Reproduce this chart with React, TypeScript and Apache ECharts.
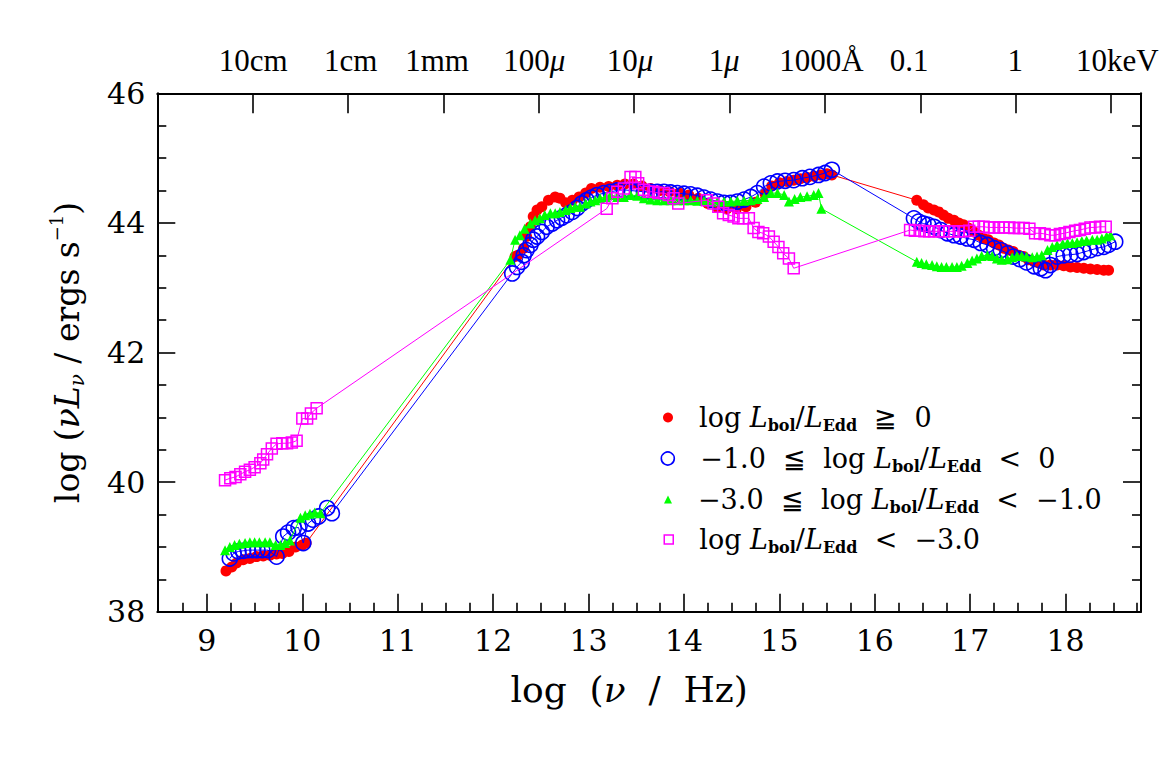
import React, { useEffect, useRef } from 'react';
import * as echarts from 'echarts';

// ---------- axes ----------
const X_RANGE = [8.48, 18.79];
const Y_RANGE = [38, 46];
const X_MAJOR_TICKS = [9, 10, 11, 12, 13, 14, 15, 16, 17, 18];
const X_MINOR_TICKS: number[] = [];
for (let k = 35; k <= 75; k++) {
  if (k % 4 !== 0) X_MINOR_TICKS.push(k / 4);
}
const Y_MAJOR_TICKS = [38, 40, 42, 44, 46];
const Y_MINOR_TICKS = [38.5, 39, 39.5, 40.5, 41, 41.5, 42.5, 43, 43.5, 44.5, 45, 45.5];
const TOP_TICKS = [9.477, 10.477, 11.477, 12.477, 13.477, 14.477, 15.477, 16.477, 17.477, 18.477];
const TOP_LABELS = ['10cm', '1cm', '1mm', '100μ', '10μ', '1μ', '1000Å', '0.1', '1', '10keV'];
const TOP_LABEL_AT = [9.485, 10.506, 11.412, 12.431, 13.434, 14.421, 15.442, 16.361, 17.473, 18.541];

// ---------- series names ----------
const NAME_R = 'log Lbol/LEdd ≧ 0';
const NAME_B = '−1.0 ≦ log Lbol/LEdd < 0';
const NAME_G = '−3.0 ≦ log Lbol/LEdd < −1.0';
const NAME_M = 'log Lbol/LEdd < −3.0';

// ---------- data: [log nu, log nuLnu] ----------
const RED: [number, number][] = [
  [9.20, 38.63], [9.26, 38.69], [9.31, 38.75], [9.38, 38.80], [9.45, 38.82], [9.52, 38.85], [9.59, 38.86],
  [9.66, 38.87], [9.73, 38.89], [9.79, 38.90], [9.86, 38.93], [9.93, 39.00], [10.00, 39.03], [10.04, 39.06],
  [12.23, 43.48], [12.26, 43.50], [12.32, 43.61], [12.35, 43.79], [12.39, 43.94], [12.42, 44.10], [12.46, 44.20],
  [12.51, 44.25], [12.58, 44.35], [12.65, 44.40], [12.70, 44.38], [12.76, 44.31], [12.83, 44.35], [12.90, 44.40],
  [12.97, 44.46], [13.03, 44.53], [13.12, 44.55], [13.21, 44.56], [13.30, 44.58], [13.38, 44.60], [13.47, 44.60],
  [13.56, 44.57], [13.65, 44.53], [13.75, 44.50], [13.85, 44.48], [13.95, 44.46], [14.05, 44.43], [14.15, 44.38],
  [14.25, 44.30], [14.35, 44.24], [14.45, 44.22], [14.55, 44.22], [14.65, 44.25], [14.75, 44.32], [14.85, 44.45],
  [14.92, 44.57], [15.00, 44.62], [15.08, 44.64], [15.15, 44.66], [15.22, 44.68], [15.29, 44.70], [15.36, 44.72],
  [15.43, 44.74], [15.50, 44.76], [15.55, 44.74],
  [16.44, 44.35], [16.51, 44.28], [16.56, 44.23], [16.62, 44.20], [16.67, 44.17], [16.72, 44.12], [16.77, 44.07],
  [16.83, 44.04], [16.88, 44.00], [16.93, 43.97], [16.98, 43.92], [17.04, 43.86], [17.09, 43.81], [17.14, 43.76],
  [17.19, 43.74], [17.25, 43.69], [17.30, 43.66], [17.35, 43.61], [17.40, 43.58], [17.45, 43.56], [17.51, 43.50],
  [17.56, 43.48], [17.61, 43.43], [17.67, 43.40], [17.72, 43.38], [17.77, 43.35], [17.84, 43.35], [17.91, 43.35],
  [17.98, 43.34], [18.05, 43.32], [18.12, 43.31], [18.19, 43.30], [18.26, 43.29], [18.33, 43.28], [18.40, 43.27],
  [18.45, 43.27],
];

const BLUE: [number, number][] = [
  [9.24, 38.82], [9.28, 38.90], [9.33, 38.93], [9.38, 38.94], [9.43, 38.95], [9.48, 38.95], [9.53, 38.95],
  [9.58, 38.95], [9.64, 38.95], [9.73, 38.85], [9.80, 39.16], [9.85, 39.22], [9.91, 39.29], [9.96, 39.30],
  [10.01, 39.06], [10.06, 39.36], [10.11, 39.42], [10.17, 39.47], [10.26, 39.60], [10.31, 39.52],
  [12.20, 43.22], [12.25, 43.32], [12.30, 43.40], [12.32, 43.50], [12.35, 43.58], [12.39, 43.66], [12.42, 43.74],
  [12.46, 43.79], [12.51, 43.86], [12.56, 43.94], [12.62, 43.99], [12.67, 44.04], [12.72, 44.08], [12.77, 44.12],
  [12.83, 44.17], [12.88, 44.23], [12.93, 44.30], [12.98, 44.35], [13.03, 44.39], [13.09, 44.43], [13.16, 44.46],
  [13.23, 44.48], [13.30, 44.50], [13.37, 44.51], [13.44, 44.50], [13.51, 44.49], [13.58, 44.48], [13.65, 44.48],
  [13.72, 44.48], [13.79, 44.48], [13.86, 44.47], [13.93, 44.46], [14.00, 44.45], [14.07, 44.44], [14.14, 44.42],
  [14.21, 44.39], [14.28, 44.36], [14.35, 44.33], [14.42, 44.31], [14.49, 44.31], [14.56, 44.33], [14.63, 44.36],
  [14.70, 44.40], [14.77, 44.46], [14.84, 44.56], [14.91, 44.61], [14.98, 44.64], [15.06, 44.65], [15.15, 44.66],
  [15.24, 44.69], [15.32, 44.71], [15.41, 44.74], [15.48, 44.77], [15.55, 44.82],
  [16.41, 44.07], [16.46, 44.02], [16.51, 43.99], [16.56, 43.97], [16.62, 43.94], [16.69, 43.89], [16.76, 43.84],
  [16.83, 43.81], [16.90, 43.79], [16.97, 43.76], [17.04, 43.74], [17.11, 43.69], [17.18, 43.66], [17.25, 43.61],
  [17.32, 43.58], [17.39, 43.53], [17.45, 43.48], [17.52, 43.44], [17.59, 43.39], [17.67, 43.33], [17.74, 43.30],
  [17.79, 43.27], [17.84, 43.35], [17.91, 43.48], [17.98, 43.50], [18.05, 43.51], [18.12, 43.52], [18.19, 43.55],
  [18.26, 43.58], [18.33, 43.61], [18.40, 43.63], [18.45, 43.66], [18.52, 43.71],
];

const GREEN: [number, number][] = [
  [9.19, 38.95], [9.24, 39.00], [9.29, 39.03], [9.34, 39.05], [9.40, 39.06], [9.45, 39.07], [9.50, 39.07],
  [9.55, 39.07], [9.61, 39.07], [9.66, 39.07], [9.72, 39.03], [9.77, 39.03], [9.82, 39.06], [9.87, 39.10],
  [9.98, 39.45], [10.03, 39.49], [10.08, 39.51], [10.13, 39.53], [10.19, 39.52],
  [12.18, 43.43], [12.23, 43.74], [12.28, 43.81], [12.33, 43.91], [12.39, 43.99], [12.44, 44.04], [12.49, 44.07],
  [12.54, 44.12], [12.60, 44.15], [12.65, 44.15], [12.70, 44.17], [12.76, 44.20], [12.81, 44.23], [12.86, 44.25],
  [12.91, 44.25], [12.97, 44.30], [13.02, 44.33], [13.07, 44.35], [13.12, 44.38], [13.18, 44.40], [13.23, 44.43],
  [13.30, 44.40], [13.37, 44.40], [13.44, 44.43], [13.51, 44.42], [13.58, 44.38], [13.65, 44.36], [13.72, 44.35],
  [13.79, 44.35], [13.86, 44.35], [13.93, 44.35], [14.00, 44.35], [14.07, 44.35], [14.14, 44.34], [14.21, 44.34],
  [14.28, 44.33], [14.35, 44.33], [14.42, 44.33], [14.49, 44.33], [14.56, 44.34], [14.63, 44.34], [14.70, 44.35],
  [14.77, 44.37], [14.84, 44.40], [14.91, 44.46], [14.98, 44.46], [15.05, 44.43], [15.10, 44.33], [15.16, 44.37],
  [15.22, 44.40], [15.29, 44.41], [15.36, 44.43], [15.41, 44.46], [15.44, 44.22],
  [16.44, 43.40], [16.49, 43.38], [16.54, 43.36], [16.60, 43.35], [16.65, 43.33], [16.70, 43.32], [16.75, 43.32],
  [16.81, 43.32], [16.86, 43.32], [16.91, 43.34], [16.97, 43.38], [17.02, 43.42], [17.07, 43.45], [17.12, 43.49],
  [17.18, 43.50], [17.23, 43.49], [17.28, 43.45], [17.33, 43.43], [17.39, 43.44], [17.44, 43.47], [17.49, 43.49],
  [17.54, 43.49], [17.59, 43.48], [17.65, 43.47], [17.70, 43.48], [17.75, 43.50], [17.81, 43.58], [17.86, 43.63],
  [17.91, 43.66], [17.97, 43.68], [18.02, 43.69], [18.07, 43.69], [18.12, 43.70], [18.17, 43.72], [18.22, 43.73],
  [18.28, 43.74], [18.33, 43.74], [18.38, 43.76], [18.43, 43.79], [18.47, 43.81],
];

const MAGENTA: [number, number][] = [
  [9.19, 40.03], [9.245, 40.06], [9.30, 40.08], [9.35, 40.12], [9.40, 40.16], [9.45, 40.19], [9.50, 40.23],
  [9.56, 40.29], [9.59, 40.35], [9.63, 40.43], [9.68, 40.52], [9.73, 40.59], [9.79, 40.60], [9.84, 40.60],
  [9.89, 40.61], [9.94, 40.64], [10.00, 40.98], [10.05, 40.98], [10.09, 41.06], [10.15, 41.14],
  [13.19, 44.22], [13.25, 44.38], [13.30, 44.48], [13.37, 44.53], [13.44, 44.71], [13.49, 44.71], [13.52, 44.61],
  [13.58, 44.51], [13.63, 44.48], [13.68, 44.48], [13.73, 44.46], [13.79, 44.46], [13.84, 44.43], [13.89, 44.38],
  [13.94, 44.30],
  [14.24, 44.35], [14.31, 44.30], [14.36, 44.25], [14.41, 44.15], [14.47, 44.12], [14.52, 44.10], [14.57, 44.07],
  [14.62, 44.07], [14.68, 44.07], [14.73, 43.92], [14.78, 43.86], [14.83, 43.84], [14.89, 43.79], [14.94, 43.71],
  [14.99, 43.63], [15.04, 43.53], [15.10, 43.45], [15.15, 43.30],
  [16.37, 43.89], [16.42, 43.88], [16.47, 43.88], [16.52, 43.87], [16.57, 43.87], [16.62, 43.87], [16.67, 43.87],
  [16.72, 43.87], [16.78, 43.87], [16.83, 43.87], [16.88, 43.87], [16.93, 43.87], [16.99, 43.88], [17.04, 43.94],
  [17.09, 43.94], [17.14, 43.94], [17.20, 43.93], [17.25, 43.93], [17.30, 43.93], [17.35, 43.93], [17.41, 43.93],
  [17.46, 43.92], [17.51, 43.92], [17.56, 43.92], [17.62, 43.91], [17.68, 43.84], [17.73, 43.84], [17.78, 43.83],
  [17.84, 43.81], [17.89, 43.81], [17.94, 43.83], [17.99, 43.84], [18.04, 43.86], [18.10, 43.88], [18.15, 43.89],
  [18.20, 43.91], [18.26, 43.93], [18.31, 43.93], [18.36, 43.94], [18.42, 43.94],
];

const SERIF = 'DejaVu Serif';
const TIMES = 'Liberation Serif';
const NB = '\u00a0';

const legendRich = {
  n: { fontFamily: SERIF, fontSize: 27, color: '#000', lineHeight: 32 },
  i: { fontFamily: SERIF, fontStyle: 'italic', fontSize: 27, color: '#000', lineHeight: 32 },
  s: { fontFamily: SERIF, fontWeight: 'bold', fontSize: 16, color: '#000', lineHeight: 12, verticalAlign: 'bottom' },
  g: { width: 21, lineHeight: 32 },
};

const lbol = `{i|L}{s|bol}{n|/}{i|L}{s|Edd}`;
const LEGEND_TEXT: Record<string, string> = {
  [NAME_R]: `{g|${NB}}{n|log${NB}}${lbol}{n|${NB}${NB}≧${NB}${NB}0}`,
  [NAME_B]: `{g|${NB}}{n|−1.0${NB}${NB}≦${NB}${NB}log${NB}}${lbol}{n|${NB}${NB}<${NB}${NB}0}`,
  [NAME_G]: `{g|${NB}}{n|−3.0${NB}${NB}≦${NB}${NB}log${NB}}${lbol}{n|${NB}${NB}<${NB}${NB}−1.0}`,
  [NAME_M]: `{g|${NB}}{n|log${NB}}${lbol}{n|${NB}${NB}<${NB}${NB}−3.0}`,
};

function makeLegend(name: string, icon: string, itemStyle: any, size: number, cx: number, cy: number) {
  return {
    data: [{ name, icon, itemStyle }],
    left: cx - size / 2,
    top: cy - 16,
    padding: 0,
    itemWidth: size,
    itemHeight: size,
    selectedMode: false,
    formatter: (n: string) => LEGEND_TEXT[n],
    textStyle: { rich: legendRich },
  };
}

const axisLineStyle = { color: '#000', width: 2 };
const tickStyle = { color: '#000', width: 1.6 };

export default function App() {
  const ref = useRef<HTMLDivElement>(null);
  useEffect(() => {
    if (!ref.current) return;
    const chart = echarts.init(ref.current, undefined, { renderer: 'svg' });
    const baseX = { type: 'value', min: X_RANGE[0], max: X_RANGE[1], splitLine: { show: false } };
    const baseY = { type: 'value', min: Y_RANGE[0], max: Y_RANGE[1], splitLine: { show: false } };
    chart.setOption({
      animation: false,
      backgroundColor: '#fff',
      grid: { left: 157.3, right: 34, top: 93.3, bottom: 151.3, containLabel: false },
      xAxis: [
        {
          ...baseX,
          position: 'bottom',
          axisLine: { show: true, onZero: false, lineStyle: axisLineStyle },
          axisTick: { show: true, inside: true, length: 18, customValues: X_MAJOR_TICKS, lineStyle: tickStyle },
          axisLabel: {
            show: true, customValues: X_MAJOR_TICKS, margin: 14,
            fontFamily: SERIF, fontSize: 30, color: '#000',
          },
          name: '{n|log' + NB + NB + '(}{i|ν}{n|' + NB + NB + '/' + NB + NB + 'Hz)}{pad|' + NB + '}',
          nameLocation: 'middle',
          nameGap: 60,
          nameTextStyle: {
            rich: {
              n: { fontFamily: SERIF, fontSize: 36, color: '#000' },
              i: { fontFamily: SERIF, fontStyle: 'italic', fontSize: 36, color: '#000' },
              pad: { width: 40 },
            },
          },
        },
        {
          ...baseX,
          position: 'bottom',
          axisLine: { show: false },
          axisTick: { show: true, inside: true, length: 9, customValues: X_MINOR_TICKS, lineStyle: tickStyle },
          axisLabel: { show: false },
        },
        {
          ...baseX,
          position: 'top',
          axisLine: { show: true, onZero: false, lineStyle: axisLineStyle },
          axisTick: { show: true, inside: true, length: 20, customValues: TOP_TICKS, lineStyle: tickStyle },
          axisLabel: {
            show: true, customValues: TOP_LABEL_AT, margin: 17,
            fontFamily: TIMES, fontSize: 31, color: '#000',
            formatter: (v: number) => {
              let idx = 0;
              TOP_LABEL_AT.forEach((p, i) => { if (Math.abs(p - v) < Math.abs(TOP_LABEL_AT[idx] - v)) idx = i; });
              return TOP_LABELS[idx].replace('μ', '{mu|μ}');
            },
            rich: { mu: { fontFamily: TIMES, fontStyle: 'italic', fontSize: 31, color: '#000' } },
          },
        },
      ],
      yAxis: [
        {
          ...baseY,
          position: 'left',
          axisLine: { show: true, onZero: false, lineStyle: axisLineStyle },
          axisTick: { show: true, inside: true, length: 18, customValues: Y_MAJOR_TICKS, lineStyle: tickStyle },
          axisLabel: { show: true, customValues: Y_MAJOR_TICKS, margin: 12, fontFamily: SERIF, fontSize: 30, color: '#000' },
          name: '{n|log' + NB + '(}{i|νL}{sb|ν}{n|' + NB + '/' + NB + 'ergs' + NB + 's}{sp|−1}{n|)}',
          nameLocation: 'middle',
          nameGap: 70,
          nameTextStyle: {
            rich: {
              n: { fontFamily: SERIF, fontSize: 33, color: '#000', lineHeight: 40 },
              i: { fontFamily: SERIF, fontStyle: 'italic', fontSize: 33, color: '#000', lineHeight: 40 },
              sb: { fontFamily: SERIF, fontStyle: 'italic', fontSize: 20, color: '#000', lineHeight: 16, verticalAlign: 'bottom' },
              sp: { fontFamily: SERIF, fontSize: 18, color: '#000', lineHeight: 18, verticalAlign: 'top' },
            },
          },
        },
        {
          ...baseY,
          position: 'left',
          axisLine: { show: false },
          axisTick: { show: true, inside: true, length: 9, customValues: Y_MINOR_TICKS, lineStyle: tickStyle },
          axisLabel: { show: false },
        },
        {
          ...baseY,
          position: 'right',
          axisLine: { show: true, onZero: false, lineStyle: axisLineStyle },
          axisTick: { show: true, inside: true, length: 18, customValues: Y_MAJOR_TICKS, lineStyle: tickStyle },
          axisLabel: { show: false },
        },
        {
          ...baseY,
          position: 'right',
          axisLine: { show: false },
          axisTick: { show: true, inside: true, length: 9, customValues: Y_MINOR_TICKS, lineStyle: tickStyle },
          axisLabel: { show: false },
        },
      ],
      legend: [
        makeLegend(NAME_R, 'circle', { color: '#ff0000' }, 10, 668, 420),
        makeLegend(NAME_B, 'circle', { color: 'rgba(0,0,0,0)', borderColor: '#0000ff', borderWidth: 1.6 }, 13, 667, 461),
        makeLegend(NAME_G, 'triangle', { color: '#00ff00' }, 8, 668, 502),
        makeLegend(NAME_M, 'rect', { color: 'rgba(0,0,0,0)', borderColor: '#ff00ff', borderWidth: 1.5 }, 9, 668, 542),
      ],
      series: [
        {
          name: NAME_R, type: 'line', data: RED, xAxisIndex: 0, yAxisIndex: 0,
          symbol: 'circle', symbolSize: 11, z: 2,
          itemStyle: { color: '#ff0000' }, lineStyle: { color: '#ff0000', width: 1 },
        },
        {
          name: NAME_B, type: 'line', data: BLUE, xAxisIndex: 0, yAxisIndex: 0,
          symbol: 'circle', symbolSize: 15, z: 3,
          itemStyle: { color: 'rgba(0,0,0,0)', borderColor: '#0000ff', borderWidth: 1.6 },
          lineStyle: { color: '#0000ff', width: 1 },
        },
        {
          name: NAME_G, type: 'line', data: GREEN, xAxisIndex: 0, yAxisIndex: 0,
          symbol: 'triangle', symbolSize: 10, z: 4,
          itemStyle: { color: '#00ff00' }, lineStyle: { color: '#00ff00', width: 1 },
        },
        {
          name: NAME_M, type: 'line', data: MAGENTA, xAxisIndex: 0, yAxisIndex: 0,
          symbol: 'rect', symbolSize: 11, z: 5,
          itemStyle: { color: 'rgba(0,0,0,0)', borderColor: '#ff00ff', borderWidth: 1.5 },
          lineStyle: { color: '#ff00ff', width: 1 },
        },
      ],
    });
    return () => chart.dispose();
  }, []);
  return (
    <div
      ref={ref}
      style={{ position: 'absolute', left: 0, top: 0, width: 1175, height: 763, background: '#fff' }}
    />
  );
}
